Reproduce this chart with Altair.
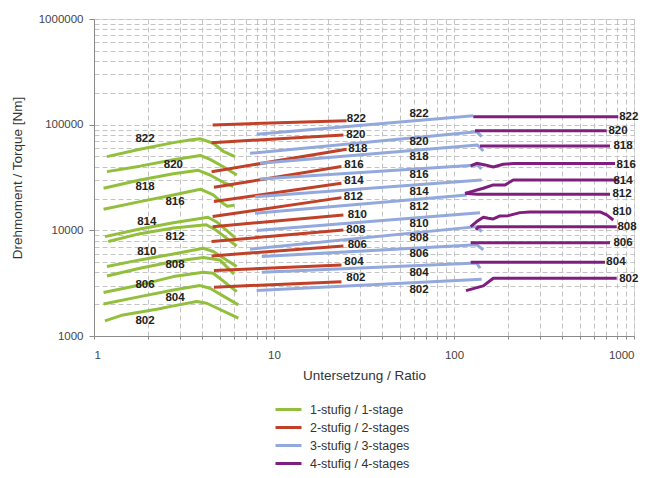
import altair as alt
import pandas as pd

SERIES = ["822", "820", "818", "816", "814", "812", "810", "808", "806", "804", "802"]
STAGES = ["1-stufig / 1-stage", "2-stufig / 2-stages", "3-stufig / 3-stages", "4-stufig / 4-stages"]
COLORS = ["#92C03C", "#C04028", "#93A9DD", "#801E80"]

# 1-stage (green)
green_x = {
    "822": [1.18, 1.80, 2.76, 3.41, 3.90, 4.60, 5.23, 6.07],
    "820": [1.18, 1.80, 2.76, 3.90, 4.41, 5.23, 6.21],
    "818": [1.13, 1.80, 2.76, 3.80, 4.41, 5.23, 5.94],
    "816": [1.13, 1.80, 2.76, 3.90, 4.60, 5.20, 5.50, 6.00],
    "814": [1.15, 1.80, 2.76, 4.30, 4.80, 6.10],
    "812": [1.20, 1.80, 2.76, 4.20, 4.70, 6.20],
    "810": [1.18, 1.80, 2.76, 4.05, 4.60, 6.20],
    "808": [1.18, 1.80, 2.76, 4.05, 5.00, 6.00],
    "806": [1.13, 1.80, 2.76, 4.05, 4.60, 6.21],
    "804": [1.13, 1.80, 2.76, 3.88, 4.41, 6.34],
    "802": [1.15, 1.45, 1.65, 2.23, 2.76, 3.72, 4.23, 6.34],
}
green_y = {
    "822": [49800, 58500, 67600, 71700, 73500, 66700, 56000, 49800],
    "820": [35950, 40500, 46500, 51100, 47000, 40000, 33400],
    "818": [25000, 29990, 34300, 37000, 33400, 28500, 25900],
    "816": [15820, 18700, 21620, 24500, 21600, 18000, 16900, 17300],
    "814": [8725, 10300, 11800, 13300, 12000, 8500],
    "812": [7830, 9300, 10500, 11300, 10200, 7100],
    "810": [4540, 5250, 5980, 6770, 6300, 4540],
    "808": [3700, 4380, 5060, 5520, 5250, 3850],
    "806": [2576, 3044, 3650, 4020, 3925, 2630],
    "804": [2012, 2360, 2730, 3000, 2830, 1970],
    "802": [1390, 1583, 1642, 1792, 1927, 2118, 2042, 1473],
}

# 2-stages (red)
red_x = {
    "822": [4.56, 25.3], "820": [4.50, 24.3], "818": [4.50, 25.3], "816": [4.64, 23.7],
    "814": [4.64, 23.7], "812": [4.56, 23.7], "810": [4.56, 24.3], "808": [4.50, 24.3],
    "806": [4.50, 24.3], "804": [4.64, 23.7], "802": [4.64, 23.7],
}
red_y = {
    "822": [99400, 109100], "820": [67600, 79900], "818": [35900, 58500], "816": [25600, 40100],
    "814": [18700, 27900], "812": [13500, 20400], "810": [10840, 14000], "808": [7820, 10090],
    "806": [5730, 7120], "804": [4160, 4710], "802": [2900, 3270],
}

# 3-stages (blue)
blue_x = {
    "822": [8.01, 128], "820": [7.36, 133.7, 142.5], "818": [8.36, 135, 145.5],
    "816": [8.36, 135, 142], "814": [7.84, 142.5], "812": [7.84, 117.6], "810": [8.01, 139.5],
    "808": [7.36, 133.7, 142.5], "806": [8.55, 133.7, 145.5], "804": [8.55, 133.7, 139.5],
    "802": [8.01, 142.5],
}
blue_y = {
    "822": [81200, 121700], "820": [53600, 85900, 77000], "818": [43100, 64300, 56400],
    "816": [30600, 41600, 38000], "814": [20800, 30000], "812": [14500, 21600], "810": [9940, 14700],
    "808": [6630, 10840, 9720], "806": [5640, 7300, 6530], "804": [4015, 4915, 4380],
    "802": [2690, 3440],
}

# 4-stages (purple)
purple_x = {
    "822": [128, 818], "820": [130.8, 705], "818": [139.5, 735.6],
    "816": [123.8, 133.7, 148.7, 165.3, 187.8, 213.5, 784],
    "814": [115.1, 145.5, 165.3, 192, 213.5, 818],
    "812": [115.1, 133.7, 735.6],
    "810": [123.8, 133.7, 145.5, 155.1, 165.3, 180.1, 200.3, 232.6, 264.4, 647.4, 705.3, 767.4],
    "808": [132.5, 136.5, 801.6], "806": [123.8, 735.6], "804": [123.8, 690],
    "802": [116.6, 145.5, 165.3, 801.6],
}
purple_y = {
    "822": [119000, 119000], "820": [87800, 87800], "818": [62900, 62900],
    "816": [40700, 43100, 41600, 39800, 42200, 42800, 42800],
    "814": [22400, 25000, 26900, 26900, 30000, 30000],
    "812": [22400, 21950, 21950],
    "810": [10840, 12090, 13300, 13020, 12820, 13690, 13770, 14710, 14930, 14930, 13990, 12540],
    "808": [10090, 10840, 10840], "806": [7650, 7650], "804": [4990, 4990],
    "802": [2690, 2980, 3520, 3520],
}

# series labels (positions in data units)
green_lx = [1.92, 2.76, 1.92, 2.82, 1.963, 2.82, 1.963, 2.82, 1.92, 2.82, 1.92]
green_ly = [72760, 41560, 25570, 18690, 12090, 8718, 6288, 4707, 3044, 2279, 1399]
red_lx = [28.7, 28.5, 29.2, 27.8, 27.8, 27.6, 29.0, 28.5, 29.0, 27.8, 28.5]
red_ly = [113200, 79900, 58520, 41560, 29340, 20830, 13990, 10090, 7276, 5057, 3523]
blue_lx = [63.9] * 11
blue_ly = [126300, 68160, 49150, 33430, 23230, 16540, 11490, 8420, 5995, 3979, 2730]
purple_lx = [935, 815, 869, 905, 869, 858, 858, 915, 869, 794, 935]
purple_ly = [117500, 87760, 62870, 41560, 29530, 21950, 14840, 10700, 7651, 4991, 3446]

X_TICKS = [1, 2, 3, 4, 5, 6, 7, 8, 9, 10, 20, 30, 40, 50, 60, 70, 80, 90,
           100, 200, 300, 400, 500, 600, 700, 800, 900, 1000]
Y_TICKS = [1000, 2000, 3000, 4000, 5000, 6000, 7000, 8000, 9000,
           10000, 20000, 30000, 40000, 50000, 60000, 70000, 80000, 90000,
           100000, 200000, 300000, 400000, 500000, 600000, 700000, 800000, 900000, 1000000]

rows = []
for stage, xd, yd in zip(STAGES, [green_x, red_x, blue_x, purple_x], [green_y, red_y, blue_y, purple_y]):
    for s in SERIES:
        for i, (xv, yv) in enumerate(zip(xd[s], yd[s])):
            rows.append({"stage": stage, "series": s, "key": stage + s, "x": xv, "y": yv, "i": i})
df = pd.DataFrame(rows)

lab_rows = []
for lx, ly in [(green_lx, green_ly), (red_lx, red_ly), (blue_lx, blue_ly), (purple_lx, purple_ly)]:
    for s, xv, yv in zip(SERIES, lx, ly):
        lab_rows.append({"series": s, "x": xv, "y": yv})
labels = pd.DataFrame(lab_rows)

FONT = "Liberation Sans"
xscale = alt.Scale(type="log", domain=[1, 1000], nice=False)
yscale = alt.Scale(type="log", domain=[1000, 1000000], nice=False)

xaxis = alt.Axis(
    values=X_TICKS,
    labelExpr="indexof([1,10,100,1000], datum.value) >= 0 ? format(datum.value, 'd') : ''",
    grid=True, gridDash=[5, 3], gridColor="#c4c4c4", gridWidth=1,
    domainColor="#8a8a8a", tickColor="#8a8a8a", tickSize=3,
    labelFont=FONT, labelFontSize=11.5, labelColor="#444", labelPadding=10,
    title="Untersetzung / Ratio", titleFont=FONT, titleFontSize=13.5,
    titleFontWeight="normal", titleColor="#333", titlePadding=8,
)
yaxis = alt.Axis(
    values=Y_TICKS,
    labelExpr="indexof([1000,10000,100000,1000000], datum.value) >= 0 ? format(datum.value, 'd') : ''",
    grid=True, gridDash=[5, 3], gridColor="#c4c4c4", gridWidth=1,
    domainColor="#8a8a8a", tickColor="#8a8a8a", tickSize=5,
    tickOpacity={"condition": {"test": "indexof([1000,10000,100000,1000000], datum.value) >= 0", "value": 1}, "value": 0},
    labelFont=FONT, labelFontSize=11.5, labelColor="#444", labelPadding=6,
    title="Drehmoment / Torque [Nm]", titleFont=FONT, titleFontSize=13.5,
    titleFontWeight="normal", titleColor="#333", titlePadding=14,
)

color = alt.Color(
    "stage:N",
    scale=alt.Scale(domain=STAGES, range=COLORS),
    legend=alt.Legend(
        title=None, orient="none", legendX=188, legendY=384, direction="vertical",
        symbolType="M-2.6,0H2.6", symbolSize=100, symbolStrokeWidth=3,
        labelFont=FONT, labelFontSize=12.5, labelColor="#333", labelOffset=15,
        rowPadding=5, padding=0,
    ),
)

layers = []
for st in STAGES:
    layers.append(
        alt.Chart(df[df["stage"] == st]).mark_line(strokeWidth=3, strokeJoin="round").encode(
            x=alt.X("x:Q", scale=xscale, axis=xaxis),
            y=alt.Y("y:Q", scale=yscale, axis=yaxis),
            color=color,
            detail="key:N",
            order="i:Q",
        )
    )

text = alt.Chart(labels).mark_text(
    font=FONT, fontSize=11.5, fontWeight="bold", color="#222", align="center", baseline="middle"
).encode(
    x=alt.X("x:Q", scale=xscale, axis=xaxis),
    y=alt.Y("y:Q", scale=yscale, axis=yaxis),
    text="series:N",
)

chart = alt.layer(*layers, text).properties(
    width=540, height=317,
    autosize=alt.AutoSizeParams(type="none"),
    padding={"left": 86, "top": 11, "right": 5, "bottom": 134},
).configure_view(stroke="#8a8a8a", strokeWidth=1).configure(background="white")

chart.save("out.html", embed_options={"renderer": "svg", "actions": False})
